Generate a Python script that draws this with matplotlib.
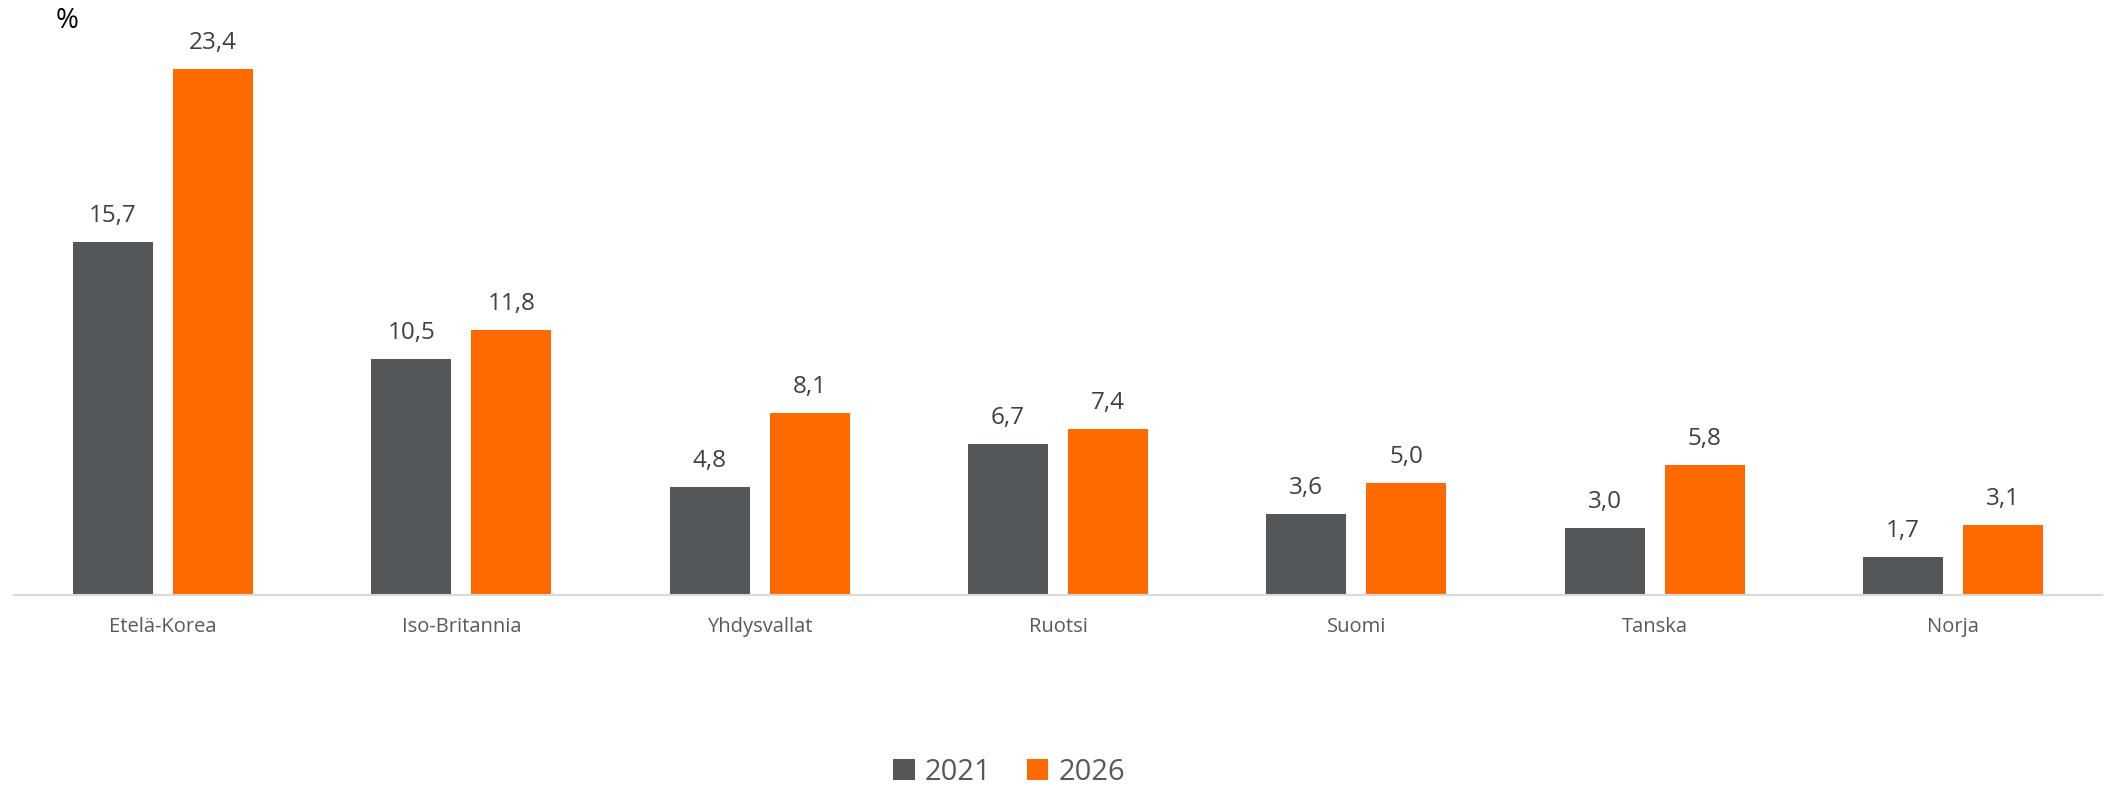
import matplotlib
matplotlib.use("Agg")
import matplotlib.pyplot as plt
import numpy as np

categories = ["Etelä-Korea", "Iso-Britannia", "Yhdysvallat", "Ruotsi", "Suomi", "Tanska", "Norja"]
values_2021 = [15.7, 10.5, 4.8, 6.7, 3.6, 3.0, 1.7]
values_2026 = [23.4, 11.8, 8.1, 7.4, 5.0, 5.8, 3.1]
series_labels = ["2021", "2026"]
colors = ["#53575A", "#FF6A00"]

plt.rcParams['font.family'] = ['Open Sans', 'DejaVu Sans']

fig = plt.figure(figsize=(21.08, 7.86), dpi=100)
ax = fig.add_axes([14/2108, 1 - 595/786, (2102 - 14)/2108, (595 - 32.5)/786])

x = np.arange(len(categories))
w = 0.268
off = 0.1676
b1 = ax.bar(x - off, values_2021, width=w, color=colors[0], label=series_labels[0])
b2 = ax.bar(x + off, values_2026, width=w, color=colors[1], label=series_labels[1])

for bars, vals in ((b1, values_2021), (b2, values_2026)):
    for r, v in zip(bars, vals):
        ax.annotate(f"{v:.1f}".replace(".", ","), (r.get_x() + r.get_width()/2, v),
                    xytext=(0, 10), textcoords="offset points", ha="center", va="bottom",
                    fontsize=17.5, color="#404040")

ax.set_xlim(-0.5, len(categories) - 0.5)
ax.set_ylim(0, 25)
ax.set_xticks(x)
ax.set_xticklabels(categories, fontsize=14.5, color="#595959")
ax.tick_params(axis="x", length=0, pad=16)
ax.set_yticks([])
for s in ("top", "right", "left"):
    ax.spines[s].set_visible(False)
ax.spines["bottom"].set_color("#D9D9D9")
ax.spines["bottom"].set_linewidth(1.5)

fig.text(56/2108, 1 - 21/786, "%", fontsize=20, color="#000000", ha="left", va="center")

leg = fig.legend(handles=[b1, b2], labels=series_labels, loc="center",
                 bbox_to_anchor=(1009/2108, 1 - 772/786), ncol=2, frameon=False,
                 fontsize=21, handlelength=0.75, handleheight=0.75, handletextpad=0.35,
                 columnspacing=1.2, labelcolor="#595959")

fig.savefig("out.png", dpi=100)
